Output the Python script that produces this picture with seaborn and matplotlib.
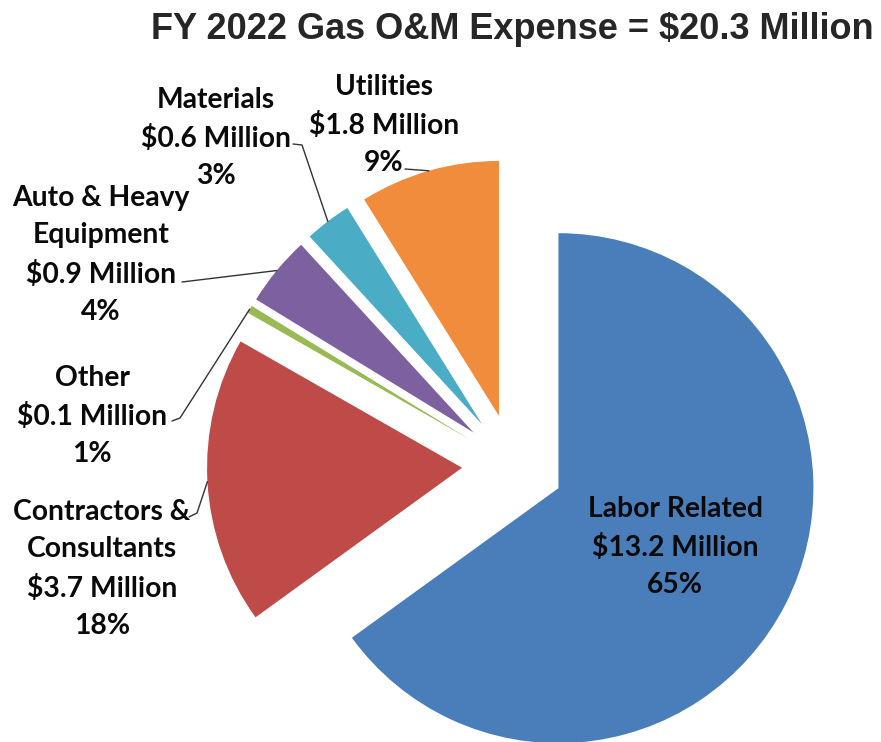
"""
Pizza explodida das despesas de O&M de gas (FY 2022), estilo grafico do Excel.
"""
import numpy as np
import matplotlib
matplotlib.use("Agg")
import matplotlib.pyplot as plt
import seaborn as sns

# --- dados (sentido horario a partir das 12h) ---
titulo = "FY 2022 Gas O&M Expense = $20.3 Million"
categorias = ["Labor Related", "Contractors &\nConsultants", "Other",
              "Auto & Heavy\nEquipment", "Materials", "Utilities"]
valores = [13.2, 3.7, 0.1, 0.9, 0.6, 1.8]
percentuais = ["65%", "18%", "1%", "4%", "3%", "9%"]
cores = ["#4A7EBB", "#BE4B48", "#98B954", "#7D60A0", "#4AACC5", "#F08C3C"]

# --- layout em pixels (y para baixo), convertido depois ---
W, H = 881, 742
CENTRO = (513, 465)
RAIO = 255
EXPLODE = 0.2  # fracao do raio
pos_rotulos = [(675, 547), (102, 569), (92, 416), (101, 255), (216, 138), (384, 125)]
# pontos iniciais das linhas de chamada (do lado do texto)
inicio_linhas = [
    None,
    [(189, 517), (197, 513)],
    [(172, 421), (180, 418)],
    [(182, 282)],
    [(293, 144), (302, 145)],
    [(405, 169)],
]


def px(p):
    return p[0], H - p[1]


def main():
    sns.set_theme(style="white")
    plt.rcParams["font.family"] = ["Lato", "DejaVu Sans"]

    fig = plt.figure(figsize=(W / 100, H / 100), dpi=100)
    ax = fig.add_axes([0, 0, 1, 1])

    # no matplotlib o explode e absoluto, entao multiplica pelo raio
    wedges, _ = ax.pie(
        valores, colors=cores, startangle=90, counterclock=False,
        explode=[EXPLODE * RAIO] * len(valores), radius=RAIO, center=px(CENTRO),
        wedgeprops=dict(linewidth=0),
    )
    ax.set_xlim(0, W)
    ax.set_ylim(0, H)
    ax.set_aspect("equal")
    ax.axis("off")

    # rotulos: nome / valor / percentual
    for cat, v, pct, pos in zip(categorias, valores, percentuais, pos_rotulos):
        ax.text(*px(pos), f"{cat}\n${v:.1f} Million\n{pct}",
                ha="center", va="center", fontsize=20.3, fontweight="bold",
                linespacing=1.55, color="#0a0a0a")

    # linhas de chamada ate o meio do arco de cada fatia
    for w, pts in zip(wedges, inicio_linhas):
        if pts is None:
            continue
        theta = np.deg2rad((w.theta1 + w.theta2) / 2)
        cx, cy = w.center
        fim = (cx + w.r * np.cos(theta), cy + w.r * np.sin(theta))
        xy = [px(p) for p in pts] + [fim]
        ax.plot([p[0] for p in xy], [p[1] for p in xy], color="#333333", lw=1)

    fig.text(512.5 / W, 1 - 39 / H, titulo, ha="center", va="baseline",
             fontsize=26, fontweight="bold", family="Liberation Sans")

    fig.savefig("out.png", dpi=100, facecolor="white")
    plt.close(fig)


if __name__ == "__main__":
    main()
